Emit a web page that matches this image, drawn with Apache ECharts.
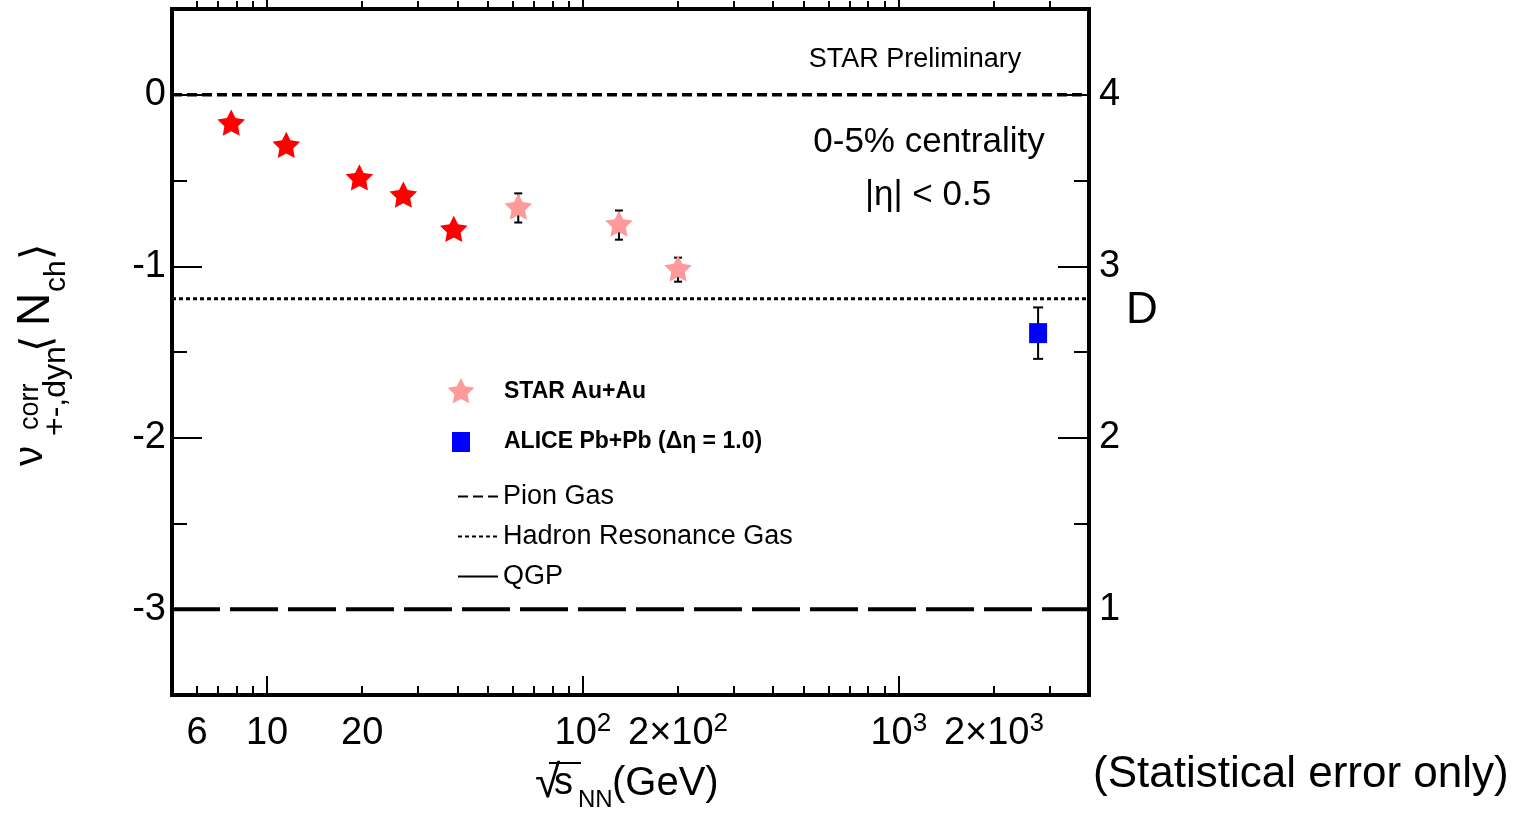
<!DOCTYPE html>
<html><head><meta charset="utf-8">
<script src="https://cdn.jsdelivr.net/npm/echarts@6/dist/echarts.min.js"></script>
<style>html,body{margin:0;padding:0;background:#fff}#c{width:1522px;height:813px}</style>
</head><body><div id="c"></div>
<script>
// ---------- data ----------
const starBesEnergy = [7.7, 11.5, 19.6, 27, 39];
const starBesValue  = [-0.17, -0.30, -0.49, -0.59, -0.79];
const starEnergy = [62.4, 130, 200];
const starValue  = [-0.66, -0.76, -1.02];
const starError  = [0.085, 0.085, 0.07];
const aliceEnergy = [2760];
const aliceValue  = [-1.39];
const aliceError  = [0.15];
const pionGasValue = 0;
const hrgValue = -1.19;
const qgpValue = -3;
const xRange = [5, 4000];
const yRange = [-3.5, 0.5];
const dRange = [0.5, 4.5];
const xLabelValues = [6, 10, 20, 100, 200, 1000, 2000];
const xLabelTexts  = ['{m|6}', '{m|10}', '{m|20}', '{m|10}{s|2}', '{m|2×10}{s|2}', '{m|10}{s|3}', '{m|2×10}{s|3}'];
const xMajorTicks = [10, 100, 1000];
const xMinorTicks = [6, 7, 8, 9, 20, 30, 40, 50, 60, 70, 80, 90, 200, 300, 400, 500, 600, 700, 800, 900, 2000, 3000];
const yMajorTicks = [0, -1, -2, -3];
const yMinorTicks = [-0.5, -1.5, -2.5];
const dMajorTicks = [1, 2, 3, 4];
const dMinorTicks = [1.5, 2.5, 3.5];

// ---------- helpers ----------
const L = Math.log10;
const FF = '"Liberation Sans", Arial, Helvetica, sans-serif';
const RED = '#ff0000', PINK = '#ff9a9a', BLUE = '#0000ff';

function starPath() {
  const pts = [];
  for (let k = 0; k < 10; k++) {
    const a = -Math.PI / 2 + k * Math.PI / 5;
    const r = k % 2 === 0 ? 14 : 7;
    pts.push((r * Math.cos(a)).toFixed(2) + ',' + (r * Math.sin(a)).toFixed(2));
  }
  return 'path://M-14,-14M14,14M' + pts.join('L') + 'Z';
}
const STAR = starPath();
const SQUARE = 'path://M-14,-14M14,14M-9,-10H9V10H-9Z';

function xAxisDef(pos, ticks, len, withLabels) {
  const ax = {
    type: 'value', position: pos, min: L(xRange[0]), max: L(xRange[1]),
    axisLine: { show: false, onZero: false }, splitLine: { show: false },
    axisTick: { show: true, inside: pos === 'bottom', length: len, customValues: ticks.map(L),
                lineStyle: { color: '#000', width: 2 } },
    axisLabel: { show: false }
  };
  if (withLabels) {
    ax.axisLabel = {
      show: true, margin: 16, color: '#000', fontFamily: FF, fontSize: 38,
      customValues: xLabelValues.map(L),
      rich: {
        m: { fontFamily: FF, fontSize: 38, lineHeight: 46, color: '#000' },
        s: { fontFamily: FF, fontSize: 26, lineHeight: 26, verticalAlign: 'top', color: '#000' }
      },
      formatter: function (v) {
        let best = 0;
        xLabelValues.forEach(function (e, i) {
          if (Math.abs(L(e) - v) < Math.abs(L(xLabelValues[best]) - v)) best = i;
        });
        return xLabelTexts[best];
      }
    };
  }
  return ax;
}
function yAxisDef(pos, range, ticks, len, withLabels) {
  const ax = {
    type: 'value', position: pos, min: range[0], max: range[1],
    axisLine: { show: false, onZero: false }, splitLine: { show: false },
    axisTick: { show: true, inside: true, length: len, customValues: ticks,
                lineStyle: { color: '#000', width: 2 } },
    axisLabel: { show: false }
  };
  if (withLabels) {
    ax.axisLabel = {
      show: true, margin: pos === 'left' ? 6 : 10, color: '#000', fontFamily: FF, fontSize: 38,
      customValues: ticks, formatter: function (v) { return String(Math.round(v)); }
    };
  }
  return ax;
}
function errRender(capHalf) {
  return function (params, api) {
    const x = api.value(0);
    const lo = api.coord([x, api.value(1)]);
    const hi = api.coord([x, api.value(2)]);
    const st = { stroke: '#000', lineWidth: 2 };
    return { type: 'group', children: [
      { type: 'line', shape: { x1: lo[0], y1: lo[1], x2: hi[0], y2: hi[1] }, style: st },
      { type: 'line', shape: { x1: lo[0] - capHalf, y1: lo[1], x2: lo[0] + capHalf, y2: lo[1] }, style: st },
      { type: 'line', shape: { x1: hi[0] - capHalf, y1: hi[1], x2: hi[0] + capHalf, y2: hi[1] }, style: st }
    ]};
  };
}
function hLine(v) { return [[L(xRange[0]), v], [L(xRange[1]), v]]; }
function txt(x, y, text, size, align, weight) {
  return { type: 'text', x: x, y: y, silent: true,
    style: { text: text, font: (weight ? weight + ' ' : '') + size + 'px ' + FF,
             fill: '#000', textAlign: align || 'left', textVerticalAlign: 'middle', verticalAlign: 'middle' } };
}

const chart = echarts.init(document.getElementById('c'), null, { renderer: 'canvas' });
chart.setOption({
  animation: false,
  backgroundColor: '#fff',
  grid: { left: 172, right: 433, top: 9, bottom: 118, show: true, borderColor: '#000', borderWidth: 4, backgroundColor: 'transparent' },
  xAxis: [
    xAxisDef('bottom', xMajorTicks, 19, true),
    xAxisDef('bottom', xMinorTicks, 9, false),
    xAxisDef('top', xMajorTicks, 19, false),
    xAxisDef('top', xMinorTicks, 8, false)
  ],
  yAxis: [
    yAxisDef('left', yRange, yMajorTicks, 30, true),
    yAxisDef('left', yRange, yMinorTicks, 15, false),
    yAxisDef('right', dRange, dMajorTicks, 31, true),
    yAxisDef('right', dRange, dMinorTicks, 15, false)
  ],
  legend: [
    { data: ['STAR Au+Au', 'ALICE Pb+Pb (Δη = 1.0)'], orient: 'vertical', left: 442, top: 373,
      itemWidth: 76, itemHeight: 28, itemGap: 22, selectedMode: false,
      textStyle: { fontFamily: FF, fontSize: 23, fontWeight: 'bold', color: '#000' } },
    { data: ['Pion Gas', 'Hadron Resonance Gas', { name: 'QGP', lineStyle: { type: 'solid' } }],
      orient: 'vertical', left: 452, top: 478, itemWidth: 40, itemHeight: 14, itemGap: 13, selectedMode: false,
      itemStyle: { color: 'transparent', borderColor: 'transparent', borderWidth: 0, opacity: 0 },
      textStyle: { fontFamily: FF, fontSize: 27, color: '#000' } }
  ],
  series: [
    { name: 'Pion Gas', type: 'line', data: hLine(pionGasValue), symbol: 'none', z: 2,
      itemStyle: { color: '#000' },
      lineStyle: { color: '#000', width: 3.5, type: [10, 5] } },
    { name: 'Hadron Resonance Gas', type: 'line', data: hLine(hrgValue), symbol: 'none', z: 2,
      itemStyle: { color: '#000' },
      lineStyle: { color: '#000', width: 3, type: [4, 3] } },
    { name: 'QGP', type: 'line', data: hLine(qgpValue), symbol: 'none', z: 2,
      itemStyle: { color: '#000' },
      lineStyle: { color: '#000', width: 4, type: [48, 10] } },
    { name: 'STAR errors', type: 'custom', renderItem: errRender(4), z: 3,
      encode: { x: 0, y: [1, 2] },
      data: starEnergy.map(function (e, i) { return [L(e), starValue[i] - starError[i], starValue[i] + starError[i]]; }) },
    { name: 'ALICE errors', type: 'custom', renderItem: errRender(5), z: 3,
      encode: { x: 0, y: [1, 2] },
      data: aliceEnergy.map(function (e, i) { return [L(e), aliceValue[i] - aliceError[i], aliceValue[i] + aliceError[i]]; }) },
    { name: 'STAR Au+Au', type: 'scatter', symbol: STAR, symbolSize: 29, z: 4,
      itemStyle: { color: PINK, opacity: 1 },
      data: starEnergy.map(function (e, i) { return [L(e), starValue[i]]; }) },
    { name: 'STAR Au+Au (BES)', type: 'scatter', symbol: STAR, symbolSize: 29, z: 4,
      itemStyle: { color: RED, opacity: 1 },
      data: starBesEnergy.map(function (e, i) { return [L(e), starBesValue[i]]; }) },
    { name: 'ALICE Pb+Pb (Δη = 1.0)', type: 'scatter', symbol: SQUARE, symbolSize: 28, z: 4,
      itemStyle: { color: BLUE, opacity: 1 },
      data: aliceEnergy.map(function (e, i) { return [L(e), aliceValue[i]]; }) }
  ],
  graphic: [
    txt(915, 60, 'STAR Preliminary', 27, 'center'),
    txt(929, 142, '0-5% centrality', 35, 'center'),
    txt(928, 195, '|η| < 0.5', 35, 'center'),
    txt(1142, 311, 'D', 44, 'center'),
    txt(1093, 775, '(Statistical error only)', 44, 'left'),
    // x-axis title
    txt(535, 784, '√', 46, 'left'),
    { type: 'line', silent: true, shape: { x1: 549, y1: 763, x2: 581, y2: 763 }, style: { stroke: '#000', lineWidth: 2 } },
    txt(554, 784, 's', 38, 'left'),
    txt(578, 800, 'NN', 24, 'left'),
    txt(612, 784, '(GeV)', 40, 'left'),
    // y-axis title (rotated)
    { type: 'group', x: 0, y: 0, rotation: Math.PI / 2, silent: true, children: [
      txt(-466, 31, 'ν', 40, 'left'),
      txt(-430, 31, 'corr', 27, 'left'),
      txt(-436, 56, '+-,dyn', 32, 'left'),
      txt(-352, 38, '⟨', 42, 'left'),
      txt(-326, 36, 'N', 46, 'left'),
      txt(-292, 57, 'ch', 30, 'left'),
      txt(-260, 38, '⟩', 42, 'left')
    ]}
  ]
});
</script>
</body></html>
